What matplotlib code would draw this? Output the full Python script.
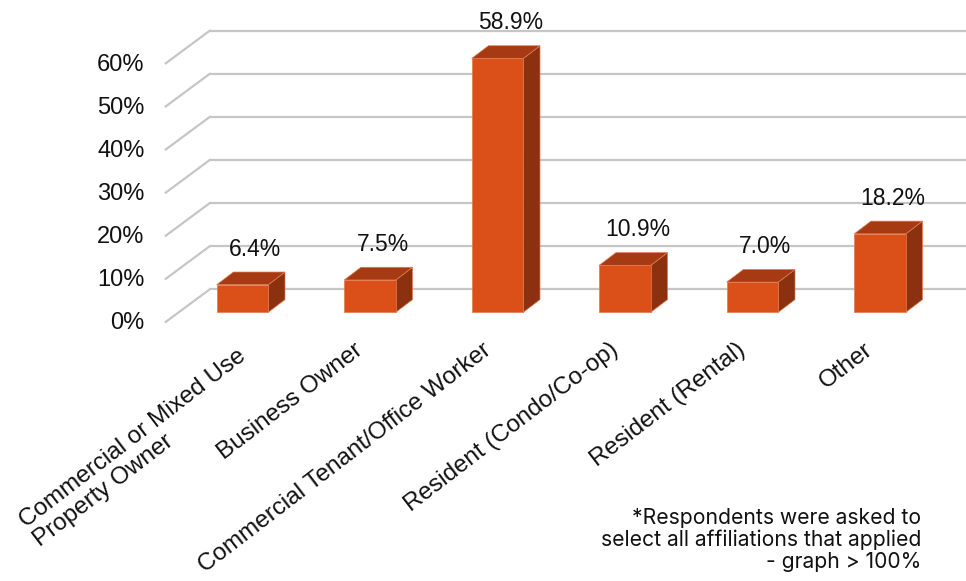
import matplotlib
matplotlib.use("Agg")
import matplotlib.pyplot as plt
from matplotlib.patches import Polygon

categories = [
    "Commercial or Mixed Use\nProperty Owner",
    "Business Owner",
    "Commercial Tenant/Office Worker",
    "Resident (Condo/Co-op)",
    "Resident (Rental)",
    "Other",
]
values = [6.4, 7.5, 58.9, 10.9, 7.0, 18.2]
y_ticks = [0, 10, 20, 30, 40, 50, 60]
y_tick_labels = [f"{t}%" for t in y_ticks]
value_labels = [f"{v:.1f}%" for v in values]
footnote = "*Respondents were asked to\nselect all affiliations that applied\n- graph > 100%"

# pseudo-3D layout (pixels) ------------------------------------------------
W, H = 966, 581
X0 = 242.5          # front-face centre of first bar
STEP = 127.5        # distance between categories
Y0 = 312.3          # front-face floor line
PX_PER_PCT = 4.31
BAR_W = 51.6
BAR_DEPTH = (16.7, -12.7)
WALL_OFF = (31.0, -23.0)    # back wall relative to bar front plane
FRONT_OFF = (-13.0, 9.6)    # front floor edge relative to bar front plane

FRONT_C = "#db4f19"
TOP_C = "#a53a13"
SIDE_C = "#8b3110"
GRID_C = "#c6c6c6"

plt.rcParams["font.family"] = ["Liberation Sans", "DejaVu Sans"]


def dx(px):
    return px / STEP


def dy(px):
    # screen pixels go down, data goes up
    return -px / PX_PER_PCT


fig = plt.figure(figsize=(W / 100, H / 100), dpi=100)
ax = fig.add_axes([0, 0, 1, 1])
ax.set_xlim(-X0 / STEP, (W - X0) / STEP)
ax.set_ylim((Y0 - H) / PX_PER_PCT, Y0 / PX_PER_PCT)
ax.axis("off")

# gridlines: back wall + slanted floor/side lines
left = -0.5
for t, lab in zip(y_ticks, y_tick_labels):
    bx, by = left + dx(WALL_OFF[0]), t + dy(WALL_OFF[1])
    fx, fy = left + dx(FRONT_OFF[0]), t + dy(FRONT_OFF[1])
    ax.plot([bx, len(categories) + 1], [by, by], color=GRID_C, lw=1.6, zorder=1,
            solid_capstyle="butt")
    ax.plot([fx, bx], [fy, by], color=GRID_C, lw=1.6, zorder=1)
    ax.text(fx + dx(-21), fy + dy(1.5), lab, ha="right", va="center", fontsize=17,
            color="#111111")

# bars
hw = dx(BAR_W) / 2
ddx, ddy = dx(BAR_DEPTH[0]), dy(BAR_DEPTH[1])
for i, v in enumerate(values):
    x0, x1 = i - hw, i + hw
    front = [(x0, 0), (x1, 0), (x1, v), (x0, v)]
    top = [(x0, v), (x1, v), (x1 + ddx, v + ddy), (x0 + ddx, v + ddy)]
    side = [(x1, 0), (x1 + ddx, ddy), (x1 + ddx, v + ddy), (x1, v)]
    for pts, c in ((side, SIDE_C), (top, TOP_C), (front, FRONT_C)):
        ax.add_patch(Polygon(pts, closed=True, facecolor=c, edgecolor="#e07a52",
                             lw=0.5, zorder=3))
    ax.text(i + dx(13), v + ddy + dy(-16.5), value_labels[i], ha="center",
            va="baseline", fontsize=16.5, color="#111111", zorder=4)

# category labels (multi-line labels are left aligned)
for i, lab in enumerate(categories):
    n = lab.count("\n")
    ax.text(i + dx(-16 + 10 * n), dy(339 - Y0 + 6 * n), lab, rotation=37.5,
            rotation_mode="anchor", ha="right", va="top", multialignment="left",
            fontsize=17.5, color="#111111", linespacing=1.1)

fig.text(921 / W, 1 - 508 / H, footnote, ha="right", va="top", fontsize=15.2,
         family=["Inter", "DejaVu Sans"], linespacing=1.12, color="#111111")

fig.savefig("out.png", dpi=100)
